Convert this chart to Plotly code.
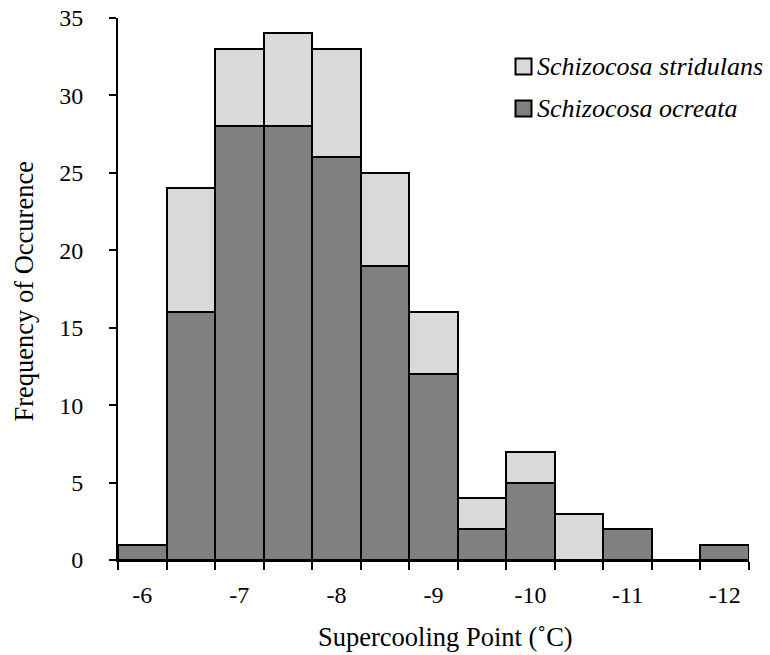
import plotly.graph_objects as go

bins = ["-6", "-6.5", "-7", "-7.5", "-8", "-8.5", "-9", "-9.5", "-10", "-10.5", "-11", "-11.5", "-12"]
tick_text = ["-6", "", "-7", "", "-8", "", "-9", "", "-10", "", "-11", "", "-12"]
ocreata = [1, 16, 28, 28, 26, 19, 12, 2, 5, 0, 2, 0, 1]
stridulans = [0, 8, 5, 6, 7, 6, 4, 2, 2, 3, 0, 0, 0]
series_names = ["Schizocosa stridulans", "Schizocosa ocreata"]
DARK = "#808080"
LIGHT = "#d9d9d9"

FONT = "Liberation Serif, Times New Roman, Times, serif"

fig = go.Figure()
fig.add_trace(go.Bar(x=bins, y=ocreata, name=series_names[1], showlegend=False,
                     marker=dict(color=DARK, line=dict(color="black", width=2))))
fig.add_trace(go.Bar(x=bins, y=stridulans, name=series_names[0], showlegend=False,
                     marker=dict(color=LIGHT, line=dict(color="black", width=2))))

# manual legend (box + italic label)
W, H = 770, 655
ml, mr, mt, mb = 118, 21, 18, 95
pw, ph = W - ml - mr, H - mt - mb


def px_x(x):
    return (x - ml) / pw


def px_y(y):
    return (H - mb - y) / ph


shapes = []
annotations = []
for name, col, cy in [(series_names[0], LIGHT, 66.5), (series_names[1], DARK, 108.5)]:
    shapes.append(dict(type="rect", xref="paper", yref="paper",
                       x0=px_x(515.5), x1=px_x(531.5), y0=px_y(cy - 8), y1=px_y(cy + 8),
                       fillcolor=col, line=dict(color="black", width=2)))
    annotations.append(dict(xref="paper", yref="paper", x=px_x(535), y=px_y(cy),
                            xanchor="left", yanchor="middle", showarrow=False,
                            text=name, font=dict(family=FONT, size=26, style="italic", color="black")))

annotations.append(dict(xref="paper", yref="paper", x=px_x(445.5), y=px_y(637),
                        xanchor="center", yanchor="middle", showarrow=False,
                        text="Supercooling Point (˚C)", font=dict(family=FONT, size=26.5, color="black")))
annotations.append(dict(xref="paper", yref="paper", x=px_x(23), y=px_y(291.5),
                        xanchor="center", yanchor="middle", showarrow=False, textangle=-90,
                        text="Frequency of Occurence", font=dict(family=FONT, size=26.5, color="black")))

fig.update_layout(
    width=W, height=H,
    barmode="stack", bargap=0,
    plot_bgcolor="white", paper_bgcolor="white",
    margin=dict(l=ml, r=mr, t=mt, b=mb, autoexpand=False),
    font=dict(family=FONT, size=24, color="black"),
    showlegend=False,
    shapes=shapes,
    annotations=annotations,
    xaxis=dict(type="category", tickson="boundaries", tickvals=bins, ticktext=tick_text,
               ticks="outside", ticklen=8, tickwidth=2, tickcolor="black",
               showline=True, linecolor="black", linewidth=2, showgrid=False,
               automargin=False, ticklabelstandoff=12, ticklabeloverflow="allow",
               tickfont=dict(family=FONT, size=24, color="black")),
    yaxis=dict(range=[0, 35], dtick=5, ticks="outside", ticklen=7, tickwidth=2,
               tickcolor="black", showline=True, linecolor="black", linewidth=2,
               showgrid=False, zeroline=False, automargin=False, ticklabelstandoff=21,
               ticklabeloverflow="allow",
               tickfont=dict(family=FONT, size=24, color="black")),
)

fig.write_html("out.html", config={"displayModeBar": False},
               post_script="document.body.style.margin='0';document.body.style.overflow='hidden';")
